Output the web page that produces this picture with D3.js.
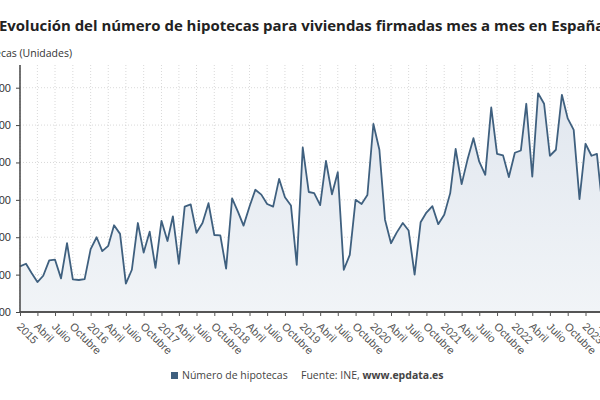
<!DOCTYPE html>
<html>
<head>
<meta charset="utf-8">
<script src="https://cdn.jsdelivr.net/npm/d3@7"></script>
<style>
  body { margin: 0; background: #fff; }
  svg { display: block; font-family: "Open Sans", sans-serif; }
</style>
</head>
<body>
<div id="chart"></div>
<script>
// hipotecas sobre viviendas, mensual, enero 2015 - abril 2023
var hipotecas = [
  21100, 21450, 20250, 19000, 19850, 21900, 22000, 19500, 24200, 19350, 19280, 19400, // 2015
  23400, 25000, 23150, 23850, 26600, 25450, 18800, 20650, 26900, 22950, 25750, 20900, // 2016
  27200, 24500, 27800, 21450, 29100, 29400, 25600, 26900, 29550, 25300, 25250, 20800, // 2017
  30200, 28350, 26550, 29100, 31350, 30700, 29450, 29100, 32800, 30350, 29250, 21300, // 2018
  37000, 31050, 30900, 29300, 35200, 30750, 33700, 20650, 22650, 30000, 29450, 30650, // 2019
  40150, 36700, 27350, 24200, 25650, 26900, 25900, 20000, 27000, 28300, 29150, 26750, // 2020
  28000, 30900, 36800, 32100, 35350, 38250, 35100, 33350, 42350, 36150, 35950, 33050, // 2021
  36300, 36600, 42850, 33100, 44250, 42850, 35900, 36700, 44050, 40900, 39350, 30100, // 2022
  37500, 35900, 36150, 28400                                                          // 2023
];
var startYear = 2015;
var monthNames = ["Enero", "Febrero", "Marzo", "Abril", "Mayo", "Junio", "Julio",
                  "Agosto", "Septiembre", "Octubre", "Noviembre", "Diciembre"];
var yTicks = [15000, 20000, 25000, 30000, 35000, 40000, 45000];

var title = "Evolución del número de hipotecas para viviendas firmadas mes a mes en España";
var yTitle = "Hipotecas (Unidades)";
var legendLabel = "Número de hipotecas";

var w = 600, h = 400;
var marg = { top: 65, left: 20, bottom: 88 };

var data = hipotecas.map(function(v, i) {
  return { date: new Date(startYear, i, 1), value: v };
});

var svg = d3.select("#chart").append("svg")
  .attr("width", w)
  .attr("height", h);

var x = d3.scaleTime()
  .domain([new Date(2015, 0, 1), new Date(2023, 0, 1)])
  .range([marg.left, 585.5]);

var y = d3.scaleLinear()
  .domain([15000, 45000])
  .range([h - marg.bottom, 87.7]);

var lineColor = "#3f607f";
var fmt = d3.format(",");
var esFormat = function(d) { return fmt(d).replace(/,/g, "."); };

// gradient for the area
var grad = svg.append("defs").append("linearGradient")
  .attr("id", "areaGrad")
  .attr("x1", 0).attr("y1", 0).attr("x2", 0).attr("y2", 1);
grad.append("stop").attr("offset", "0%").attr("stop-color", "#e1e7ef");
grad.append("stop").attr("offset", "100%").attr("stop-color", "#f1f4f7");

// quarterly ticks
var xTicks = d3.timeMonth.every(3).range(new Date(2015, 0, 1), new Date(2023, 4, 2));

// grid
svg.append("g").selectAll("line.vg")
  .data(xTicks).enter().append("line")
  .attr("x1", function(d) { return x(d); })
  .attr("x2", function(d) { return x(d); })
  .attr("y1", marg.top)
  .attr("y2", y(15000))
  .attr("stroke", "#cfcfcf")
  .attr("stroke-width", 0.8)
  .attr("stroke-dasharray", "1,2");

svg.append("g").selectAll("line.hg")
  .data(yTicks.slice(1)).enter().append("line")
  .attr("x1", marg.left)
  .attr("x2", w + 10)
  .attr("y1", function(d) { return y(d); })
  .attr("y2", function(d) { return y(d); })
  .attr("stroke", "#cfcfcf")
  .attr("stroke-width", 0.8)
  .attr("stroke-dasharray", "1,2");

// area + line
var area = d3.area()
  .x(function(d) { return x(d.date); })
  .y0(y(15000))
  .y1(function(d) { return y(d.value); });

var line = d3.line()
  .x(function(d) { return x(d.date); })
  .y(function(d) { return y(d.value); });

svg.append("path")
  .datum(data)
  .attr("d", area)
  .attr("fill", "url(#areaGrad)");

svg.append("path")
  .datum(data)
  .attr("d", line)
  .attr("fill", "none")
  .attr("stroke", lineColor)
  .attr("stroke-width", 1.8)
  .attr("stroke-linejoin", "round");

// x axis
var xAxis = d3.axisBottom(x)
  .tickValues(xTicks)
  .tickSize(4)
  .tickPadding(4)
  .tickFormat(function(d) {
    return d.getMonth() === 0 ? d.getFullYear() : monthNames[d.getMonth()];
  });

var gx = svg.append("g")
  .attr("transform", "translate(0," + y(15000) + ")")
  .call(xAxis);
gx.select(".domain").remove();
gx.selectAll(".tick line").attr("stroke", "#555");
gx.append("line")
  .attr("x1", marg.left).attr("x2", w + 10)
  .attr("stroke", "#555").attr("stroke-width", 2);
gx.selectAll(".tick text")
  .attr("fill", "#555")
  .attr("font-size", 11)
  .attr("text-anchor", "start")
  .attr("dy", "0.35em")
  .attr("transform", "translate(4,7) rotate(45)");

// y axis
var yAxis = d3.axisLeft(y)
  .tickValues(yTicks)
  .tickSize(4)
  .tickPadding(5)
  .tickFormat(esFormat);

var gy = svg.append("g")
  .attr("transform", "translate(" + marg.left + ",0)")
  .call(yAxis);
gy.select(".domain").remove();
gy.selectAll(".tick line").attr("stroke", "#444");
gy.append("line")
  .attr("y1", marg.top).attr("y2", y(15000))
  .attr("stroke", "#444").attr("stroke-width", 1.5);
gy.selectAll(".tick text")
  .attr("fill", "#333")
  .attr("font-size", 11);

// titles
var t = svg.append("text")
  .attr("x", -1)
  .attr("y", 31)
  .attr("font-size", 16)
  .attr("font-weight", "bold")
  .attr("fill", "#222")
  .text(title);
var tl = t.node().getComputedTextLength();
t.attr("font-size", 16 * 606 / tl);

svg.append("text")
  .attr("x", 72)
  .attr("y", 57)
  .attr("text-anchor", "end")
  .attr("font-size", 10.5)
  .attr("fill", "#333")
  .text(yTitle);

// legend
var lg = svg.append("g").attr("transform", "translate(171,379)");
lg.append("rect")
  .attr("x", 0).attr("y", -7)
  .attr("width", 7).attr("height", 7)
  .attr("fill", lineColor);
lg.append("text")
  .attr("x", 11)
  .attr("font-size", 10.5)
  .attr("fill", "#444")
  .text(legendLabel);

var src = svg.append("text")
  .attr("x", 301)
  .attr("y", 379)
  .attr("font-size", 10.5)
  .attr("fill", "#444");
src.append("tspan").text("Fuente: INE, ");
src.append("tspan").attr("font-weight", "bold").text("www.epdata.es");
</script>
</body>
</html>
